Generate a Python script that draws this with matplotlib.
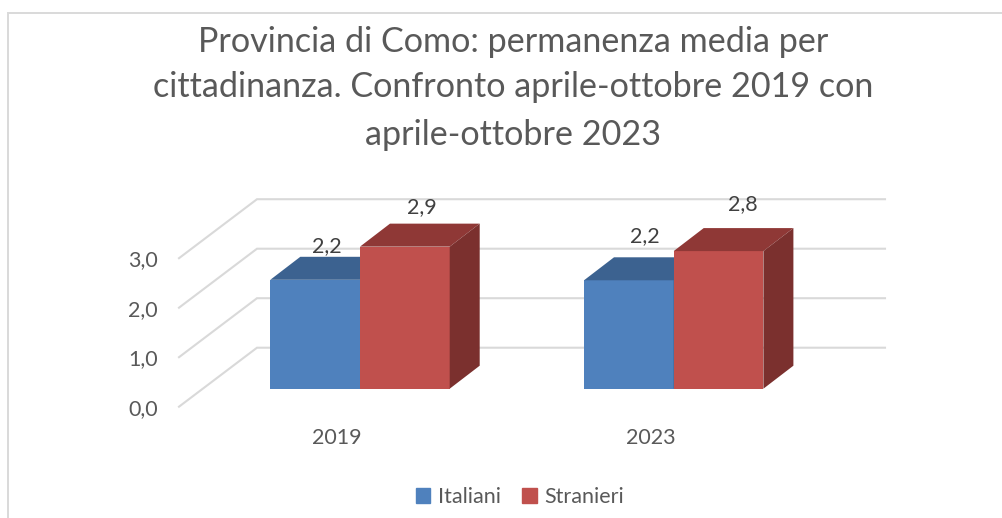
import matplotlib
matplotlib.use("Agg")
import matplotlib.pyplot as plt
from matplotlib.patches import Polygon, Rectangle

years = ["2019", "2023"]
italiani = [2.2, 2.19]
stranieri = [2.87, 2.78]
label_italiani = ["2,2", "2,2"]
label_stranieri = ["2,9", "2,8"]
yticks = [0, 1, 2, 3]
ytick_labels = ["0,0", "1,0", "2,0", "3,0"]

W, H = 1003, 518
grey = "#595959"
font = ["Lato", "DejaVu Sans"]

# pixel scale of the front plane of the bars
X0, XSTEP = 360.0, 313.7
Y0, YSTEP = 388.7, 49.5

def ux(px):
    return px / XSTEP

def uy(px):
    return px / YSTEP

fig = plt.figure(figsize=(W / 100, H / 100), dpi=100)
ax = fig.add_axes([0, 0, 1, 1])
ax.set_xlim(-X0 / XSTEP, (W - X0) / XSTEP)
ax.set_ylim((Y0 - H) / YSTEP, Y0 / YSTEP)
ax.axis("off")

# chart frame, only the top and left edges are in the picture
fig.add_artist(plt.Line2D([8.5 / W, 8.5 / W, 1], [0, 1 - 12.5 / H, 1 - 12.5 / H],
                          color="#d9d9d9", lw=1.4, solid_joinstyle="miter"))

# walls
floor = uy(18)
for v in yticks:
    yf = v - floor
    yb = yf + uy(59)
    ax.plot([ux(179 - X0), ux(257 - X0), ux(885 - X0)], [yf, yb, yb],
            color="#d9d9d9", lw=1.5, zorder=1, solid_joinstyle="miter")
    ax.text(ux(158 - X0), yf + uy(-2), ytick_labels[v], ha="right", va="center",
            fontsize=15.5, color=grey, family=font)

# bars
bw = ux(89.7)
dx, dy = ux(30), uy(23)

def bar3d(x, h, front, top, side):
    ax.bar(x, h, width=bw, align="edge", color=front, zorder=3)
    ax.add_patch(Polygon([(x, h), (x + bw, h), (x + bw + dx, h + dy), (x + dx, h + dy)],
                         facecolor=top, edgecolor="none", zorder=3))
    ax.add_patch(Polygon([(x + bw, 0), (x + bw + dx, dy), (x + bw + dx, h + dy), (x + bw, h)],
                         facecolor=side, edgecolor="none", zorder=3))

for i, year in enumerate(years):
    bar3d(i - bw, italiani[i], "#4f81bd", "#3c6290", "#335479")
    bar3d(i, stranieri[i], "#c0504d", "#8f3836", "#7b302e")
    ax.text(i - ux(23), uy(-49), year, ha="center", va="center",
            fontsize=15.5, color=grey, family=font)

ax.text(ux(-33), italiani[0] + uy(34), label_italiani[0], ha="center", va="center",
        fontsize=15.5, color="#404040", family=font, zorder=5)
ax.text(ux(62), stranieri[0] + uy(40), label_stranieri[0], ha="center", va="center",
        fontsize=15.5, color="#404040", family=font, zorder=5)
ax.text(1 + ux(-29), italiani[1] + uy(44), label_italiani[1], ha="center", va="center",
        fontsize=15.5, color="#404040", family=font, zorder=5)
ax.text(1 + ux(69), stranieri[1] + uy(47), label_stranieri[1], ha="center", va="center",
        fontsize=15.5, color="#404040", family=font, zorder=5)

fig.text(513 / W, 1 - 42 / H, "Provincia di Como: permanenza media per",
         ha="center", va="center", fontsize=24.6, color=grey, family=font)
fig.text(513 / W, 1 - 87 / H, "cittadinanza. Confronto aprile-ottobre 2019 con",
         ha="center", va="center", fontsize=24.6, color=grey, family=font)
fig.text(513 / W, 1 - 135 / H, "aprile-ottobre 2023",
         ha="center", va="center", fontsize=24.6, color=grey, family=font)

handles = [Rectangle((0, 0), 1, 1, color="#4f81bd"), Rectangle((0, 0), 1, 1, color="#c0504d")]
fig.legend(handles, ["Italiani", "Stranieri"], loc="center", ncol=2,
           bbox_to_anchor=(520 / W, 1 - 497 / H), frameon=False,
           prop={"family": font, "size": 15.5}, labelcolor=grey,
           handlelength=0.68, handleheight=0.68, handletextpad=0.35, columnspacing=1.0)

fig.savefig("out.png", dpi=100)
